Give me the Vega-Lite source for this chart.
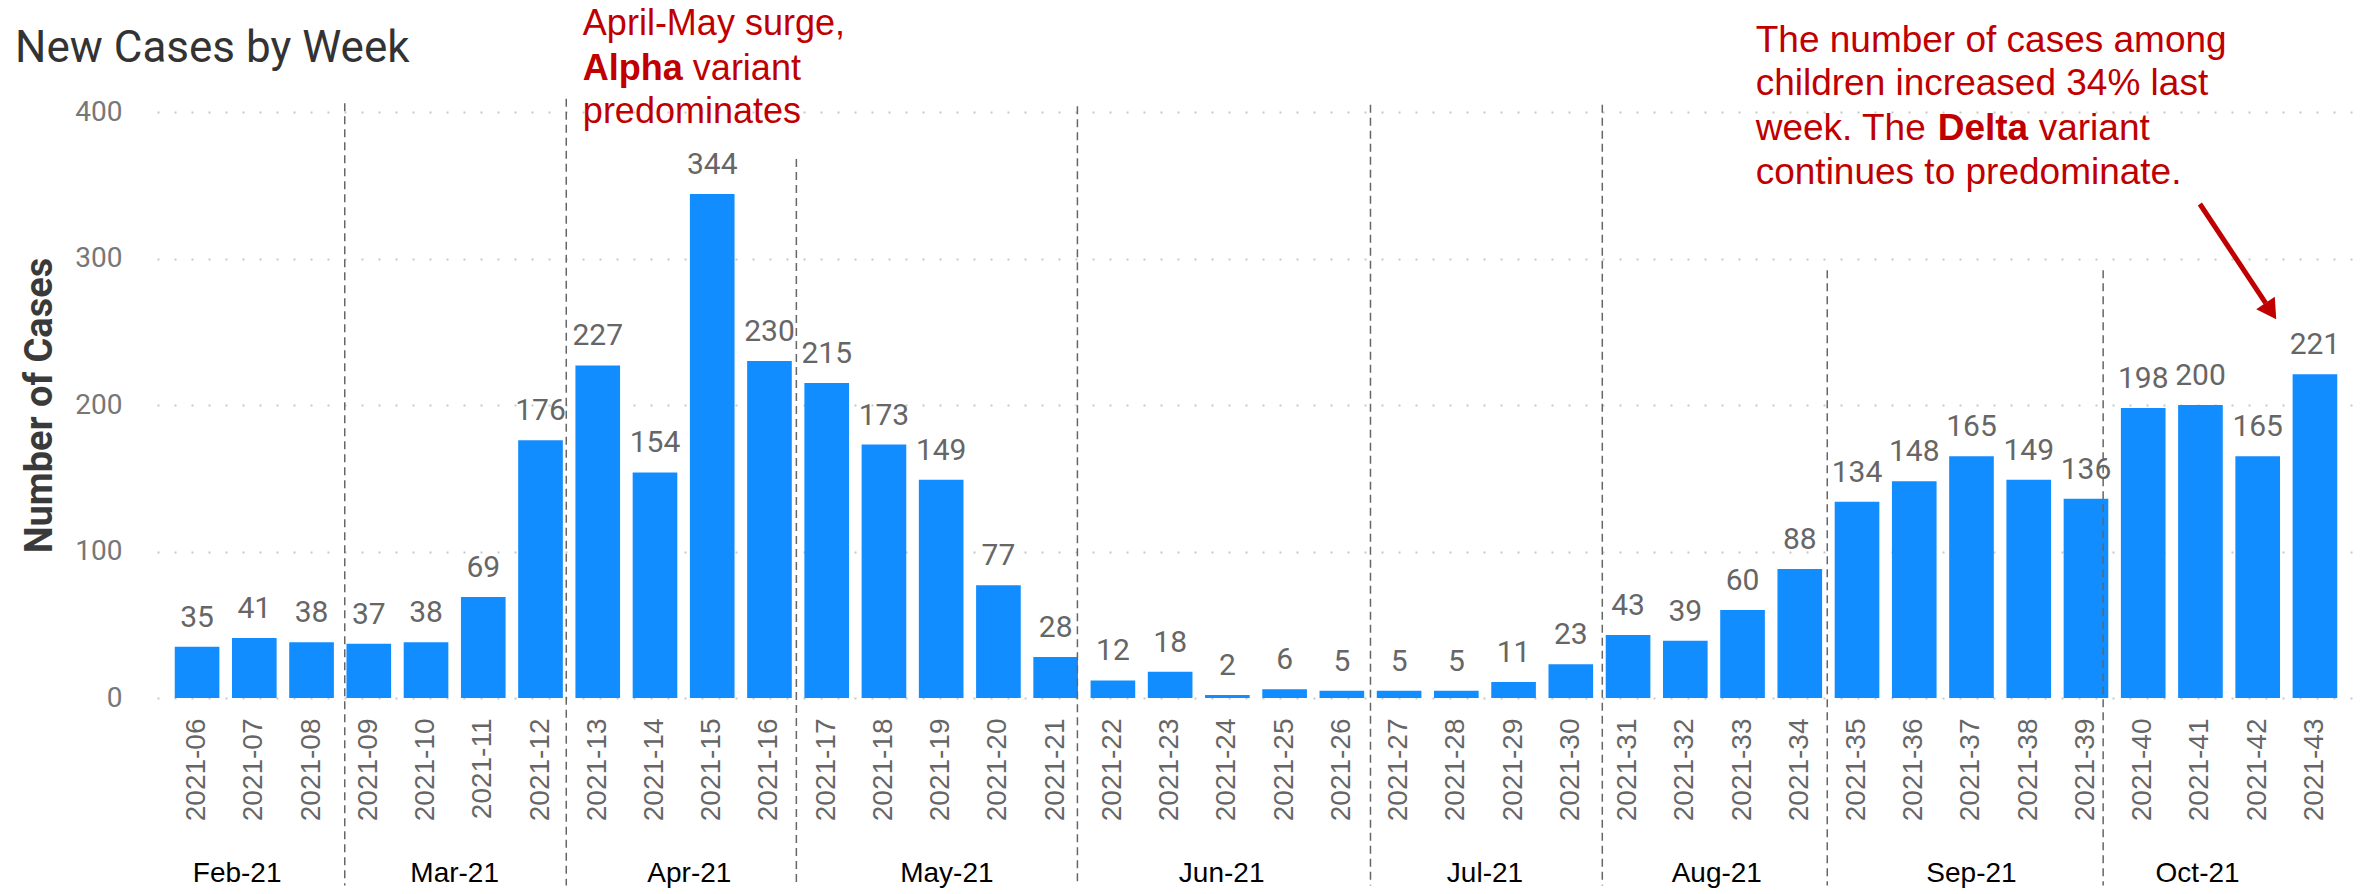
{
  "$schema": "https://vega.github.io/schema/vega-lite/v6.json",
  "width": 2198,
  "height": 586,
  "autosize": "none",
  "padding": {"left": 157, "top": 112, "right": 10, "bottom": 196},
  "background": "white",
  "config": {"view": {"stroke": null}},
  "datasets": {
    "weeks": [
      {"week": "2021-06", "cases": 35}, {"week": "2021-07", "cases": 41}, {"week": "2021-08", "cases": 38},
      {"week": "2021-09", "cases": 37}, {"week": "2021-10", "cases": 38}, {"week": "2021-11", "cases": 69},
      {"week": "2021-12", "cases": 176}, {"week": "2021-13", "cases": 227}, {"week": "2021-14", "cases": 154},
      {"week": "2021-15", "cases": 344}, {"week": "2021-16", "cases": 230}, {"week": "2021-17", "cases": 215},
      {"week": "2021-18", "cases": 173}, {"week": "2021-19", "cases": 149}, {"week": "2021-20", "cases": 77},
      {"week": "2021-21", "cases": 28}, {"week": "2021-22", "cases": 12}, {"week": "2021-23", "cases": 18},
      {"week": "2021-24", "cases": 2}, {"week": "2021-25", "cases": 6}, {"week": "2021-26", "cases": 5},
      {"week": "2021-27", "cases": 5}, {"week": "2021-28", "cases": 5}, {"week": "2021-29", "cases": 11},
      {"week": "2021-30", "cases": 23}, {"week": "2021-31", "cases": 43}, {"week": "2021-32", "cases": 39},
      {"week": "2021-33", "cases": 60}, {"week": "2021-34", "cases": 88}, {"week": "2021-35", "cases": 134},
      {"week": "2021-36", "cases": 148}, {"week": "2021-37", "cases": 165}, {"week": "2021-38", "cases": 149},
      {"week": "2021-39", "cases": 136}, {"week": "2021-40", "cases": 198}, {"week": "2021-41", "cases": 200},
      {"week": "2021-42", "cases": 165}, {"week": "2021-43", "cases": 221}
    ],
    "months": [
      {"month": "Feb-21", "weekpos": 6.7}, {"month": "Mar-21", "weekpos": 10.5}, {"month": "Apr-21", "weekpos": 14.6},
      {"month": "May-21", "weekpos": 19.1}, {"month": "Jun-21", "weekpos": 23.9}, {"month": "Jul-21", "weekpos": 28.5},
      {"month": "Aug-21", "weekpos": 32.55}, {"month": "Sep-21", "weekpos": 37}, {"month": "Oct-21", "weekpos": 40.95}
    ],
    "separators": [
      {"weekpos": 8.58, "top": 406}, {"weekpos": 12.45, "top": 409}, {"weekpos": 16.47, "top": 368},
      {"weekpos": 21.38, "top": 404}, {"weekpos": 26.5, "top": 405}, {"weekpos": 30.55, "top": 405},
      {"weekpos": 34.48, "top": 292}, {"weekpos": 39.3, "top": 292}
    ],
    "one": [{}]
  },
  "layer": [
    {
      "data": {"name": "weeks"},
      "encoding": {
        "x": {"field": "week", "type": "ordinal", "sort": null,
          "scale": {"paddingInner": 0.22, "paddingOuter": 0.31},
          "axis": {"title": null, "domain": false, "ticks": false, "labelAngle": -90, "labelFont": "Liberation Sans", "labelFontSize": 28, "labelColor": "#666666", "labelPadding": 20, "labelOverlap": false, "grid": false}},
        "y": {"field": "cases", "type": "quantitative", "scale": {"domain": [0, 400], "nice": false},
          "axis": {"values": [0, 100, 200, 300, 400], "grid": true, "gridDash": [2, 15], "gridColor": "#C8C8C8", "gridWidth": 2, "domain": false, "ticks": false, "labelFont": "Roboto", "labelFontSize": 28, "labelColor": "#777777", "labelPadding": 35, "title": "Number of Cases", "titleFont": "Roboto", "titleFontSize": 38, "titleFontWeight": "bold", "titleColor": "#3a3a3a", "titlePadding": 15}}
      },
      "layer": [
        {"mark": {"type": "bar", "color": "#118DFF"}},
        {"mark": {"type": "text", "baseline": "alphabetic", "dy": -20, "font": "Roboto", "fontSize": 30, "color": "#666666"},
          "encoding": {"text": {"field": "cases", "type": "quantitative"}}}
      ]
    },
    {
      "encoding": {
        "x": {"type": "quantitative", "scale": {"domain": [5.3, 43.7], "nice": false, "zero": false}, "axis": null},
        "y": {"type": "quantitative", "scale": {"domain": [0, 400], "nice": false, "zero": false}, "axis": null}
      },
      "layer": [
        {
          "data": {"name": "separators"},
          "mark": {"type": "rule", "color": "#666666", "strokeWidth": 1.5, "strokeDash": [8, 5]},
          "encoding": {
            "x": {"field": "weekpos", "type": "quantitative"},
            "y": {"field": "top", "type": "quantitative"},
            "y2": {"datum": -128}
          }
        },
        {
          "data": {"name": "months"},
          "mark": {"type": "text", "font": "Liberation Sans", "fontSize": 28, "color": "#000000", "align": "center", "baseline": "alphabetic"},
          "encoding": {
            "x": {"field": "weekpos", "type": "quantitative"},
            "y": {"datum": -125.5, "type": "quantitative"},
            "text": {"field": "month"}
          }
        },
        {
          "data": {"name": "one"},
          "mark": {"type": "text", "text": "New Cases by Week", "font": "Roboto", "fontSize": 44, "color": "#333333", "align": "left", "baseline": "alphabetic"},
          "encoding": {"x": {"datum": 2.82, "type": "quantitative"}, "y": {"datum": 434.1, "type": "quantitative"}}
        },
        {
          "data": {"name": "one"},
          "mark": {"type": "text", "text": "April-May surge,", "font": "Liberation Sans", "fontSize": 36, "color": "#C00000", "align": "left", "baseline": "alphabetic"},
          "encoding": {"x": {"datum": 12.74, "type": "quantitative"}, "y": {"datum": 452.6, "type": "quantitative"}}
        },
        {
          "data": {"name": "one"},
          "mark": {"type": "text", "text": "Alpha", "font": "Liberation Sans", "fontSize": 36, "fontWeight": "bold", "color": "#C00000", "align": "left", "baseline": "alphabetic"},
          "encoding": {"x": {"datum": 12.74, "type": "quantitative"}, "y": {"datum": 421.8, "type": "quantitative"}}
        },
        {
          "data": {"name": "one"},
          "mark": {"type": "text", "text": "variant", "dx": 110, "font": "Liberation Sans", "fontSize": 36, "color": "#C00000", "align": "left", "baseline": "alphabetic"},
          "encoding": {"x": {"datum": 12.74, "type": "quantitative"}, "y": {"datum": 421.8, "type": "quantitative"}}
        },
        {
          "data": {"name": "one"},
          "mark": {"type": "text", "text": "predominates", "font": "Liberation Sans", "fontSize": 36, "color": "#C00000", "align": "left", "baseline": "alphabetic"},
          "encoding": {"x": {"datum": 12.74, "type": "quantitative"}, "y": {"datum": 392.5, "type": "quantitative"}}
        },
        {
          "data": {"name": "one"},
          "mark": {"type": "text", "text": "The number of cases among", "font": "Liberation Sans", "fontSize": 37, "color": "#C00000", "align": "left", "baseline": "alphabetic"},
          "encoding": {"x": {"datum": 33.23, "type": "quantitative"}, "y": {"datum": 441, "type": "quantitative"}}
        },
        {
          "data": {"name": "one"},
          "mark": {"type": "text", "text": "children increased 34% last", "font": "Liberation Sans", "fontSize": 37, "color": "#C00000", "align": "left", "baseline": "alphabetic"},
          "encoding": {"x": {"datum": 33.23, "type": "quantitative"}, "y": {"datum": 411.6, "type": "quantitative"}}
        },
        {
          "data": {"name": "one"},
          "mark": {"type": "text", "text": "week. The", "font": "Liberation Sans", "fontSize": 37, "color": "#C00000", "align": "left", "baseline": "alphabetic"},
          "encoding": {"x": {"datum": 33.23, "type": "quantitative"}, "y": {"datum": 380.9, "type": "quantitative"}}
        },
        {
          "data": {"name": "one"},
          "mark": {"type": "text", "text": "Delta", "dx": 182, "font": "Liberation Sans", "fontSize": 37, "fontWeight": "bold", "color": "#C00000", "align": "left", "baseline": "alphabetic"},
          "encoding": {"x": {"datum": 33.23, "type": "quantitative"}, "y": {"datum": 380.9, "type": "quantitative"}}
        },
        {
          "data": {"name": "one"},
          "mark": {"type": "text", "text": "variant", "dx": 283, "font": "Liberation Sans", "fontSize": 37, "color": "#C00000", "align": "left", "baseline": "alphabetic"},
          "encoding": {"x": {"datum": 33.23, "type": "quantitative"}, "y": {"datum": 380.9, "type": "quantitative"}}
        },
        {
          "data": {"name": "one"},
          "mark": {"type": "text", "text": "continues to predominate.", "font": "Liberation Sans", "fontSize": 37, "color": "#C00000", "align": "left", "baseline": "alphabetic"},
          "encoding": {"x": {"datum": 33.23, "type": "quantitative"}, "y": {"datum": 350.9, "type": "quantitative"}}
        },
        {
          "data": {"name": "one"},
          "mark": {"type": "rule", "color": "#C00000", "strokeWidth": 5},
          "encoding": {"x": {"datum": 40.99, "type": "quantitative"}, "y": {"datum": 337.2, "type": "quantitative"},
            "x2": {"datum": 42.14}, "y2": {"datum": 269.6}}
        },
        {
          "data": {"name": "one"},
          "mark": {"type": "point", "shape": "triangle-down", "filled": true, "color": "#C00000", "opacity": 1, "size": 500, "angle": -33.7},
          "encoding": {"x": {"datum": 42.23, "type": "quantitative"}, "y": {"datum": 264.1, "type": "quantitative"}}
        }
      ]
    }
  ],
  "resolve": {"scale": {"x": "independent", "y": "independent"}}
}
